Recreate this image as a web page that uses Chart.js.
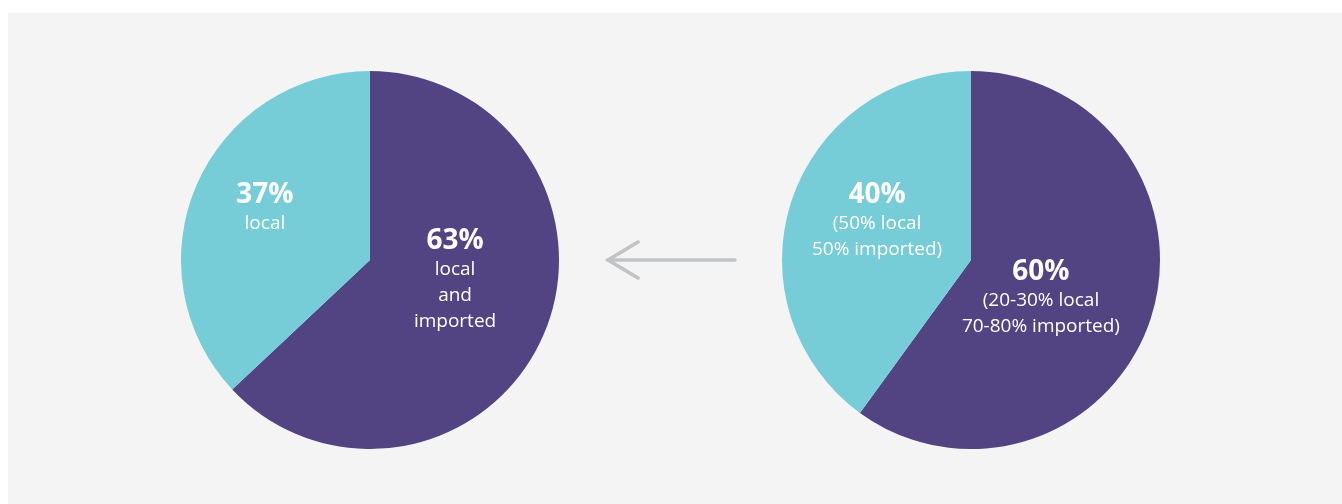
<!DOCTYPE html>
<html>
<head>
<meta charset="utf-8">
<script src="https://cdn.jsdelivr.net/npm/chart.js@4/dist/chart.umd.min.js"></script>
<style>
  html, body { margin: 0; padding: 0; background: #fff; }
  body { width: 1342px; height: 504px; position: relative; overflow: hidden; }
  #panel { position: absolute; left: 8px; top: 13px; width: 1334px; height: 491px; background: #f4f4f4; }
  .pie { position: absolute; top: 71px; width: 378px; height: 378px; }
  #pieLeft { left: 181px; }
  #pieRight { left: 782px; }
  #arrow { position: absolute; left: 600px; top: 235px; }
</style>
</head>
<body>
<div id="panel"></div>
<div class="pie" id="pieLeft"><canvas id="chartLeft" width="378" height="378"></canvas></div>
<div class="pie" id="pieRight"><canvas id="chartRight" width="378" height="378"></canvas></div>
<svg id="arrow" width="145" height="50">
  <g stroke="#c0c2c4" stroke-width="3.5" stroke-linecap="round" fill="none">
    <line x1="8" y1="25" x2="135" y2="25"/>
    <polyline points="38,7 8,25 38,43"/>
  </g>
</svg>
<script>
// slice order: purple (clockwise from top), then cyan
const categories = ['local and imported', 'local'];
const leftValues = [63, 37];
const rightValues = [60, 40];
const leftNotes = [['local', 'and', 'imported'], ['local']];
const rightNotes = [['(20-30% local', '70-80% imported)'], ['(50% local', '50% imported)']];
const sliceColors = ['#524382', '#76cdd8'];

// label anchor (title baseline) relative to pie centre, in units of radius
const leftAnchors = [[0.45, -0.058], [-0.556, -0.302]];
const rightAnchors = [[0.37, 0.106], [-0.497, -0.302]];

const sliceLabels = {
  id: 'sliceLabels',
  afterDatasetsDraw(chart, args, opts) {
    const ctx = chart.ctx;
    const arcs = chart.getDatasetMeta(0).data;
    const vals = chart.data.datasets[0].data;
    ctx.save();
    ctx.fillStyle = '#ffffff';
    ctx.textAlign = 'center';
    ctx.textBaseline = 'alphabetic';
    arcs.forEach(function (arc, i) {
      const r = arc.outerRadius;
      const x = arc.x + opts.anchors[i][0] * r;
      let y = arc.y + opts.anchors[i][1] * r;
      ctx.font = 'bold 28px "Open Sans", sans-serif';
      ctx.fillText(vals[i] + '%', x, y);
      ctx.font = '19px "Open Sans", sans-serif';
      opts.notes[i].forEach(function (line) {
        y += opts.lineGap;
        ctx.fillText(line, x, y);
      });
    });
    ctx.restore();
  }
};

function makePie(id, values, notes, anchors, gap) {
  return new Chart(document.getElementById(id), {
    type: 'pie',
    data: {
      labels: categories,
      datasets: [{
        data: values,
        backgroundColor: sliceColors,
        borderWidth: 0
      }]
    },
    options: {
      responsive: false,
      animation: false,
      devicePixelRatio: 1,
      layout: { padding: 0 },
      plugins: {
        legend: { display: false },
        tooltip: { enabled: false },
        sliceLabels: { notes: notes, anchors: anchors, lineGap: gap }
      }
    },
    plugins: [sliceLabels]
  });
}

makePie('chartLeft', leftValues, leftNotes, leftAnchors, 26);
makePie('chartRight', rightValues, rightNotes, rightAnchors, 26);
</script>
</body>
</html>
